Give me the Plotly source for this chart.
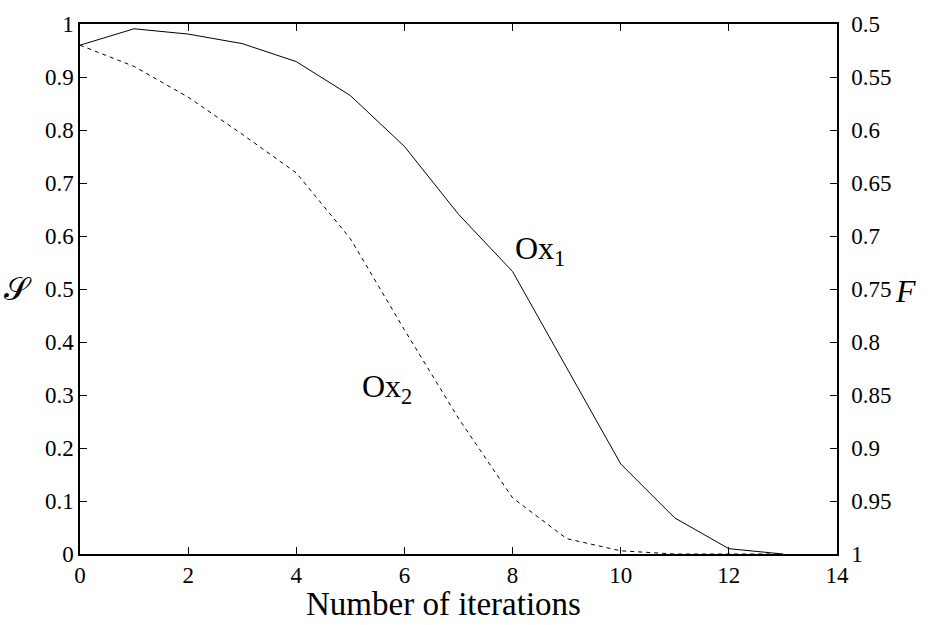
import plotly.graph_objects as go

iterations = [0, 1, 2, 3, 4, 5, 6, 7, 8, 9, 10, 11, 12, 13]
ox1 = [0.960, 0.991, 0.981, 0.963, 0.929, 0.865, 0.769, 0.641, 0.533, 0.351, 0.170, 0.068, 0.010, 0.0]
ox2 = [0.960, 0.920, 0.862, 0.792, 0.719, 0.595, 0.423, 0.256, 0.106, 0.029, 0.006, 0.0, 0.0, 0.0]

x_ticks = [0, 2, 4, 6, 8, 10, 12, 14]
s_ticks = [0, 0.1, 0.2, 0.3, 0.4, 0.5, 0.6, 0.7, 0.8, 0.9, 1.0]
s_labels = ["0", "0.1", "0.2", "0.3", "0.4", "0.5", "0.6", "0.7", "0.8", "0.9", "1"]
f_ticks = [0.5, 0.55, 0.6, 0.65, 0.7, 0.75, 0.8, 0.85, 0.9, 0.95, 1.0]
f_labels = ["0.5", "0.55", "0.6", "0.65", "0.7", "0.75", "0.8", "0.85", "0.9", "0.95", "1"]

FONT = "Liberation Serif"

L, R, T, B = 80, 101, 15, 71
W, H = 938, 625
pw = W - L - R
ph = H - T - B


def px_to_paper(px, py):
    return (px - L) / pw, (H - B - py) / ph


fig = go.Figure()
fig.add_trace(go.Scatter(x=iterations, y=ox1, mode="lines",
                         line=dict(color="black", width=1), showlegend=False))
fig.add_trace(go.Scatter(x=iterations, y=ox2, mode="lines",
                         line=dict(color="black", width=1, dash="4px,4px"), showlegend=False))
fig.add_trace(go.Scatter(x=[0], y=[0.5], yaxis="y2", mode="markers",
                         marker=dict(opacity=0), showlegend=False, hoverinfo="skip"))

axis_common = dict(showgrid=False, zeroline=False, showline=True, linecolor="black",
                   linewidth=1.5, ticks="inside", ticklen=7, tickcolor="black", tickwidth=1)
tick_font = dict(family=FONT, size=23, color="black")

sx, sy = px_to_paper(18, 285)
fx, fy = px_to_paper(905, 287)
tx, ty = px_to_paper(443, 605)

fig.update_layout(
    width=W, height=H,
    margin=dict(l=L, r=R, t=T, b=B),
    plot_bgcolor="white", paper_bgcolor="white",
    font=dict(family=FONT, size=23, color="black"),
    xaxis=dict(range=[0, 14], tickvals=x_ticks, mirror="ticks", **axis_common),
    yaxis=dict(range=[0, 1], tickvals=s_ticks, ticktext=s_labels, **axis_common),
    yaxis2=dict(range=[1, 0.5], tickvals=f_ticks, ticktext=f_labels, overlaying="y",
                side="right", **axis_common),
    annotations=[
        dict(x=8.0, y=0.573, xref="x", yref="y", text="Ox<sub>1</sub>", showarrow=False,
             xanchor="left", yanchor="middle", font=dict(family=FONT, size=32, color="black")),
        dict(x=5.18, y=0.313, xref="x", yref="y", text="Ox<sub>2</sub>", showarrow=False,
             xanchor="left", yanchor="middle", font=dict(family=FONT, size=32, color="black")),
        dict(x=sx, y=sy, xref="paper", yref="paper", text="𝒮", showarrow=False,
             xanchor="center", yanchor="middle", font=dict(family=FONT, size=32, color="black")),
        dict(x=fx, y=fy, xref="paper", yref="paper", text="<i>F</i>", showarrow=False,
             xanchor="center", yanchor="middle", font=dict(family=FONT, size=32, color="black")),
        dict(x=tx, y=ty, xref="paper", yref="paper", text="Number of iterations", showarrow=False,
             xanchor="center", yanchor="middle", font=dict(family=FONT, size=33, color="black")),
    ],
)
fig.update_xaxes(tickfont=tick_font)
fig.update_yaxes(tickfont=tick_font)
fig.layout.yaxis2.ticklabelstandoff = 8

fig.write_html("out.html")
